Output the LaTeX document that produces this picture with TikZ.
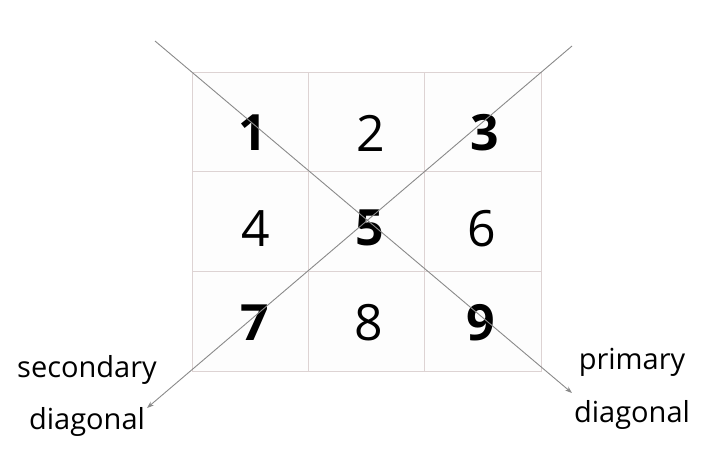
\documentclass[tikz,border=0pt]{standalone}
\usepackage{fontspec}
\setmainfont{Open Sans}
\usetikzlibrary{arrows.meta}
\definecolor{gridc}{HTML}{DDD3D3}
\definecolor{cellc}{HTML}{FDFDFD}
\definecolor{linec}{HTML}{8A8A8A}
\tikzset{
  cell/.style={draw=gridc, line width=0.8pt, fill=cellc, minimum width=116.33pt, minimum height=99.67pt, inner sep=0pt},
  num/.style={inner sep=0pt, text=black, font=\fontsize{50}{50}\selectfont},
  bnum/.style={num, font=\fontsize{50}{50}\selectfont\bfseries},
  diag/.style={draw=linec, line width=0.9pt, -{Stealth[length=7pt,width=5pt]}},
  lab/.style={font=\fontsize{29}{29}\selectfont, text=black, inner sep=0pt}
}
\begin{document}
\begin{tikzpicture}[x=1pt,y=-1pt]
\useasboundingbox (0,0) rectangle (720,450);
\node[cell] (c1) at (250.17,122) {};
\node[cell] (c2) at (366.5,122) {};
\node[cell] (c3) at (482.83,122) {};
\node[cell] (c4) at (250.17,221.67) {};
\node[cell] (c5) at (366.5,221.67) {};
\node[cell] (c6) at (482.83,221.67) {};
\node[cell] (c7) at (250.17,321.33) {};
\node[cell] (c8) at (366.5,321.33) {};
\node[cell] (c9) at (482.83,321.33) {};
\node[bnum] (n1) at (253,133) {1};
\node[num]  (n2) at (371,133) {2};
\node[bnum] (n3) at (485,133) {3};
\node[num]  (n4) at (256,229) {4};
\node[bnum] (n5) at (370,228) {5};
\node[num]  (n6) at (482,229) {6};
\node[bnum] (n7) at (255,323) {7};
\node[num]  (n8) at (369,323) {8};
\node[bnum] (n9) at (481,323) {9};
\coordinate (ps) at (155,41);
\coordinate (pe) at (572,393);
\coordinate (ss) at (572,46);
\coordinate (se) at (147,408);
\draw[diag] (ps) -- (pe);
\draw[diag] (ss) -- (se);
\node[lab] (s1) at (87,370) {secondary};
\node[lab] (s2) at (87,422) {diagonal};
\node[lab] (p1) at (632,362) {primary};
\node[lab] (p2) at (632,415) {diagonal};
\end{tikzpicture}
\end{document}
